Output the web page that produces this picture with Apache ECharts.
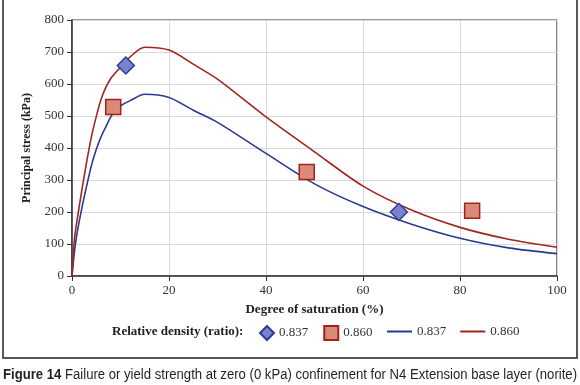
<!DOCTYPE html>
<html>
<head>
<meta charset="utf-8">
<script src="https://cdn.jsdelivr.net/npm/echarts@6/dist/echarts.min.js"></script>
<style>
  html, body { margin: 0; padding: 0; background: #fff; }
  #mychart { width: 580px; height: 385px; }
</style>
</head>
<body>
<div id="mychart"></div>
<script>
// degree of saturation (%) for the fitted curves
const saturation = [0, 0.5, 1, 2, 3, 4, 5, 6, 7, 8, 9, 10, 12, 15, 20, 25, 30, 40, 50, 60, 70, 80, 90, 100];
// principal stress (kPa), relative density 0.837
const curve837 = [0, 75, 130, 210, 280, 345, 395, 435, 467, 497, 520, 532, 548, 568, 558, 518, 480, 383, 288, 217, 162, 118, 88, 70];
// principal stress (kPa), relative density 0.860
const curve860 = [0, 115, 170, 265, 355, 435, 498, 552, 590, 617, 636, 652, 685, 715, 706, 662, 615, 497, 388, 281, 206, 152, 115, 90];

// measured points [saturation, stress]
const points837 = [[11.1, 658], [67.4, 200]];
const points860 = [[8.5, 528], [48.4, 325], [82.5, 204]];

const xTicks = [0, 20, 40, 60, 80, 100];
const yTicks = [0, 100, 200, 300, 400, 500, 600, 700, 800];
const legendNames = ['0.837', '0.860'];

const serif = '"Liberation Serif", "Times New Roman", serif';
const sans = '"Liberation Sans", Arial, sans-serif';
const blue = '#2b3990';
const red = '#a3261e';

// caption is set in a condensed face in the original, squeeze it to the frame width
const capBold = 'Figure 14';
const capText = ' Failure or yield strength at zero (0 kPa) confinement for N4 Extension base layer (norite)';
const ctx = document.createElement('canvas').getContext('2d');
ctx.font = 'bold 14px ' + sans;
let capW = ctx.measureText(capBold).width;
ctx.font = '14px ' + sans;
capW += ctx.measureText(capText).width;
const capScale = 574 / capW;

var myChart = echarts.init(document.getElementById('mychart'));

var option = {
  animation: false,
  graphic: [
    {
      // frame around the figure
      type: 'rect',
      shape: { x: 3, y: -5, width: 574, height: 363 },
      style: { fill: 'none', stroke: '#222', lineWidth: 1.5 },
      silent: true
    },
    {
      type: 'text',
      left: 112,
      top: 325,
      style: { text: 'Relative density (ratio):', font: 'bold 13px ' + serif, fill: '#222' }
    },
    {
      type: 'text',
      x: 3,
      y: 368,
      scaleX: capScale,
      style: {
        text: '{b|' + capBold + '}{r|' + capText + '}',
        rich: {
          b: { font: 'bold 14px ' + sans, fill: '#231f20' },
          r: { font: '14px ' + sans, fill: '#231f20' }
        }
      }
    }
  ],
  legend: [
    {
      left: 259,
      top: 325,
      padding: 0,
      itemWidth: 14,
      itemHeight: 14,
      itemGap: 15,
      data: [
        { name: 's' + legendNames[0], icon: 'diamond' },
        { name: 's' + legendNames[1], icon: 'rect' }
      ],
      formatter: (n) => n.slice(1),
      textStyle: { fontFamily: serif, fontSize: 13, color: '#333' }
    },
    {
      left: 387,
      top: 325,
      padding: 0,
      itemWidth: 25,
      itemHeight: 2,
      itemGap: 14,
      data: [
        { name: 'l' + legendNames[0], icon: 'rect' },
        { name: 'l' + legendNames[1], icon: 'rect' }
      ],
      formatter: (n) => n.slice(1),
      textStyle: { fontFamily: serif, fontSize: 13, color: '#333' }
    }
  ],
  grid: {
    left: 72, top: 20, width: 485, height: 256,
    show: true, borderColor: '#333', borderWidth: 1.2
  },
  xAxis: {
    type: 'value',
    min: 0, max: 100, interval: 20,
    name: 'Degree of saturation (%)',
    nameLocation: 'middle',
    nameGap: 27,
    nameTextStyle: { fontFamily: serif, fontSize: 13, fontWeight: 'bold', color: '#222' },
    axisLine: { lineStyle: { color: '#333', width: 1.5 } },
    axisTick: { show: true, length: 5, inside: false, lineStyle: { color: '#333' } },
    axisLabel: {
      margin: 8, fontFamily: serif, fontSize: 13, color: '#333',
      formatter: (v) => (xTicks.indexOf(v) >= 0 ? String(v) : '')
    },
    splitLine: { show: true, lineStyle: { color: '#d9d9d9', width: 1 } }
  },
  yAxis: {
    type: 'value',
    min: 0, max: 800, interval: 100,
    name: 'Principal stress (kPa)',
    nameLocation: 'middle',
    nameGap: 39,
    nameTextStyle: { fontFamily: serif, fontSize: 12, fontWeight: 'bold', color: '#222' },
    axisLine: { show: true, lineStyle: { color: '#333', width: 1.5 } },
    axisTick: { show: true, length: 5, inside: false, lineStyle: { color: '#333' } },
    axisLabel: {
      margin: 8, fontFamily: serif, fontSize: 13, color: '#333',
      formatter: (v) => (yTicks.indexOf(v) >= 0 ? String(v) : '')
    },
    splitLine: { show: true, lineStyle: { color: '#d9d9d9', width: 1 } }
  },
  series: [
    {
      name: 'l' + legendNames[0],
      type: 'line',
      data: saturation.map((s, i) => [s, curve837[i]]),
      smooth: 0.3,
      symbol: 'none',
      lineStyle: { color: blue, width: 1.6 },
      itemStyle: { color: blue },
      z: 2
    },
    {
      name: 'l' + legendNames[1],
      type: 'line',
      data: saturation.map((s, i) => [s, curve860[i]]),
      smooth: 0.3,
      symbol: 'none',
      lineStyle: { color: red, width: 1.6 },
      itemStyle: { color: red },
      z: 2
    },
    {
      name: 's' + legendNames[0],
      type: 'scatter',
      data: points837,
      symbol: 'diamond',
      symbolSize: 17,
      itemStyle: { color: '#7b82cc', borderColor: '#2e3d9a', borderWidth: 1.5, opacity: 1 },
      z: 3
    },
    {
      name: 's' + legendNames[1],
      type: 'scatter',
      data: points860,
      symbol: 'rect',
      symbolSize: 15,
      itemStyle: { color: '#d98a78', borderColor: '#a4201c', borderWidth: 1.5, opacity: 1 },
      z: 3
    }
  ]
};

myChart.setOption(option);
</script>
</body>
</html>
